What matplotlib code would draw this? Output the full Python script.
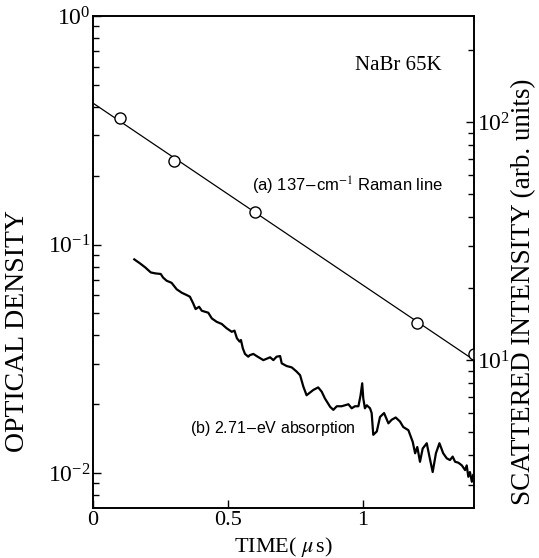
import matplotlib
matplotlib.use("Agg")
import matplotlib.pyplot as plt
from matplotlib.ticker import FixedLocator, LogLocator, NullFormatter

plt.rcParams['font.family'] = ['Liberation Serif', 'DejaVu Serif']
plt.rcParams['mathtext.fontset'] = 'stix'

# (a) Raman line, fitted straight line + measured points (right axis)
raman_fit_t = [0.0, 1.411]
raman_fit_i = [120.0, 10.0]
raman_t = [0.1, 0.3, 0.6, 1.2, 1.411]
raman_i = [104.3, 68.8, 41.9, 14.3, 10.6]

# (b) 2.71-eV absorption trace (left axis)
abs_t = [0.153, 0.174, 0.193, 0.214, 0.230, 0.251, 0.260, 0.273, 0.291, 0.310,
         0.329, 0.347, 0.359, 0.371, 0.380, 0.393, 0.403, 0.415, 0.427, 0.440,
         0.458, 0.477, 0.495, 0.514, 0.524, 0.533, 0.543, 0.548, 0.555, 0.563,
         0.575, 0.581, 0.594, 0.606, 0.631, 0.656, 0.668, 0.680, 0.693, 0.699,
         0.717, 0.736, 0.754, 0.767, 0.779, 0.791, 0.816, 0.834, 0.847, 0.859,
         0.878, 0.890, 0.903, 0.921, 0.946, 0.958, 0.970, 0.983, 0.991, 0.997,
         1.001, 1.007, 1.014, 1.026, 1.032, 1.038, 1.051, 1.063, 1.078, 1.094,
         1.106, 1.121, 1.137, 1.149, 1.168, 1.184, 1.193, 1.201, 1.211, 1.221,
         1.236, 1.246, 1.258, 1.270, 1.283, 1.297, 1.310, 1.322, 1.332, 1.341,
         1.353, 1.366, 1.378, 1.384, 1.390, 1.396, 1.403, 1.408]
abs_od = [0.0861, 0.0827, 0.0795, 0.0755, 0.0748, 0.0743, 0.0716, 0.0694, 0.0680, 0.0637,
          0.0615, 0.0601, 0.0591, 0.0553, 0.0522, 0.0534, 0.0513, 0.0508, 0.0503, 0.0475,
          0.0459, 0.0449, 0.0430, 0.0415, 0.0420, 0.0389, 0.0376, 0.0382, 0.0351, 0.0332,
          0.0323, 0.0328, 0.0332, 0.0325, 0.0312, 0.0321, 0.0312, 0.0323, 0.0325, 0.0302,
          0.0294, 0.0290, 0.0278, 0.0268, 0.0239, 0.0219, 0.0231, 0.0237, 0.0227, 0.0212,
          0.0195, 0.0189, 0.0196, 0.0196, 0.0200, 0.0192, 0.0196, 0.0196, 0.0219, 0.0247,
          0.0212, 0.0192, 0.0198, 0.0192, 0.0183, 0.0147, 0.0152, 0.0176, 0.0183, 0.0165,
          0.0171, 0.0175, 0.0168, 0.0159, 0.0154, 0.0137, 0.0122, 0.0130, 0.0112, 0.0128,
          0.0135, 0.0118, 0.0101, 0.0122, 0.0135, 0.0122, 0.0116, 0.0114, 0.0118, 0.0112,
          0.0111, 0.0108, 0.0103, 0.0108, 0.00963, 0.0101, 0.00916, 0.00980]

x_ticks = [0, 0.5, 1]
x_ticklabels = ['0', '0.5', '1']

fig = plt.figure(figsize=(5.39, 5.58), dpi=100)
ax = fig.add_axes([0.1725, 0.0896, 0.7069, 0.8817])
ax2 = ax.twinx()

ax.plot(abs_t, abs_od, color='black', lw=1.6)
ax2.plot(raman_fit_t, raman_fit_i, color='black', lw=0.9)
ax2.plot(raman_t, raman_i, 'o', ms=8, mfc='white', mec='black', mew=1.0, clip_on=True)

ax.set_xlim(0, 1.411)
ax.set_yscale('log')
ax.set_ylim(0.00703, 1.0)
ax2.set_yscale('log')
ax2.set_ylim(2.39, 278.6)

ax.xaxis.set_major_locator(FixedLocator(x_ticks))
ax.set_xticklabels(x_ticklabels)
for a in (ax, ax2):
    a.yaxis.set_minor_locator(LogLocator(base=10, subs=range(2, 10)))
    a.yaxis.set_minor_formatter(NullFormatter())
    for s in a.spines.values():
        s.set_linewidth(1.2)

ax.tick_params(axis='both', which='major', direction='in', length=6, width=1,
               labelsize=17, top=False, right=False, pad=2)
ax.tick_params(axis='x', which='major', labelsize=16)
ax.tick_params(axis='y', which='minor', direction='in', length=4, width=1, right=False)
ax.tick_params(axis='x', which='minor', bottom=False)
ax2.tick_params(axis='y', which='major', direction='in', length=6, width=1,
                labelsize=17, pad=2)
ax2.tick_params(axis='y', which='minor', direction='in', length=4, width=1)

ax.set_xlabel(r'TIME( $\mu\,$s)', fontsize=16)
ax.xaxis.set_label_coords(0.5, -0.055)
ax.set_ylabel('OPTICAL DENSITY', fontsize=20)
ax.yaxis.set_label_coords(-0.165, 0.36)
ax2.set_ylabel('SCATTERED INTENSITY (arb. units)', fontsize=19.5)
ax2.yaxis.set_label_coords(1.098, 0.44)

ax.text(1.13, 0.61, 'NaBr 65K', fontsize=15, ha='center', va='center')
ax.text(0.59, 0.180, r'(a) 137$-$cm$^{-1}$ Raman line', fontsize=12,
        family=['Liberation Sans', 'DejaVu Sans'], ha='left', va='center')
ax.text(0.36, 0.0157, r'(b) 2.71$-$eV absorption', fontsize=11.5,
        family=['Liberation Sans', 'DejaVu Sans'], ha='left', va='center')

fig.savefig('out.png', dpi=100)
